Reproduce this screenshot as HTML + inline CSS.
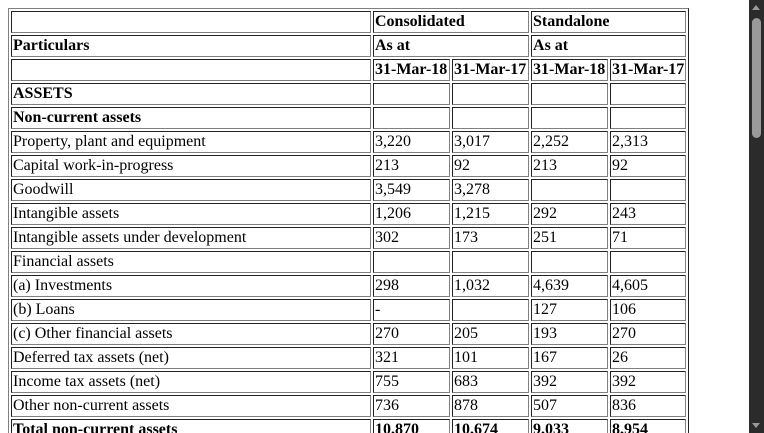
<!DOCTYPE html>
<html><head><meta charset="utf-8">
<style>
html,body{margin:0;padding:0;overflow:hidden;width:764px;height:433px;background:#fff;}
body{padding:8px;box-sizing:border-box;font-family:"Liberation Serif",serif;font-size:16px;color:#000;}
table{table-layout:fixed;width:681px;border-spacing:2px;border-style:solid;border-width:1px;border-color:#808080 #222 #222 #808080;}
td{border-style:solid;border-width:1px;border-color:#222 #808080 #808080 #222;padding:1px;line-height:18px;height:18px;white-space:nowrap;overflow:hidden;vertical-align:middle;}
.b{font-weight:bold;}
#sb{position:absolute;left:749px;top:0;width:15px;height:433px;background:#2b2b2b;}
#thumb{position:absolute;left:3px;top:18px;width:9px;height:120px;background:#9a9a9a;border-radius:5px;}
.au{position:absolute;left:3px;top:5px;width:0;height:0;border-left:4.5px solid transparent;border-right:4.5px solid transparent;border-bottom:5px solid #9a9a9a;}
.ad{position:absolute;left:3px;top:423px;width:0;height:0;border-left:4.5px solid transparent;border-right:4.5px solid transparent;border-top:5px solid #9a9a9a;}
</style></head>
<body>
<table>
<colgroup><col style="width:360px"><col style="width:77px"><col style="width:77px"><col style="width:77px"><col style="width:76px"></colgroup>
<tr><td></td><td colspan="2" class="b">Consolidated</td><td colspan="2" class="b">Standalone</td></tr>
<tr><td class="b">Particulars</td><td colspan="2" class="b">As at</td><td colspan="2" class="b">As at</td></tr>
<tr><td></td><td class="b">31-Mar-18</td><td class="b">31-Mar-17</td><td class="b">31-Mar-18</td><td class="b">31-Mar-17</td></tr>
<tr><td class="b">ASSETS</td><td></td><td></td><td></td><td></td></tr>
<tr><td class="b">Non-current assets</td><td></td><td></td><td></td><td></td></tr>
<tr><td>Property, plant and equipment</td><td>3,220</td><td>3,017</td><td>2,252</td><td>2,313</td></tr>
<tr><td>Capital work-in-progress</td><td>213</td><td>92</td><td>213</td><td>92</td></tr>
<tr><td>Goodwill</td><td>3,549</td><td>3,278</td><td></td><td></td></tr>
<tr><td>Intangible assets</td><td>1,206</td><td>1,215</td><td>292</td><td>243</td></tr>
<tr><td>Intangible assets under development</td><td>302</td><td>173</td><td>251</td><td>71</td></tr>
<tr><td>Financial assets</td><td></td><td></td><td></td><td></td></tr>
<tr><td>(a) Investments</td><td>298</td><td>1,032</td><td>4,639</td><td>4,605</td></tr>
<tr><td>(b) Loans</td><td>-</td><td></td><td>127</td><td>106</td></tr>
<tr><td>(c) Other financial assets</td><td>270</td><td>205</td><td>193</td><td>270</td></tr>
<tr><td>Deferred tax assets (net)</td><td>321</td><td>101</td><td>167</td><td>26</td></tr>
<tr><td>Income tax assets (net)</td><td>755</td><td>683</td><td>392</td><td>392</td></tr>
<tr><td>Other non-current assets</td><td>736</td><td>878</td><td>507</td><td>836</td></tr>
<tr><td class="b">Total non-current assets</td><td class="b">10,870</td><td class="b">10,674</td><td class="b">9,033</td><td class="b">8,954</td></tr>
</table>
<div id="sb"><div class="au"></div><div id="thumb"></div><div class="ad"></div></div>
</body></html>
